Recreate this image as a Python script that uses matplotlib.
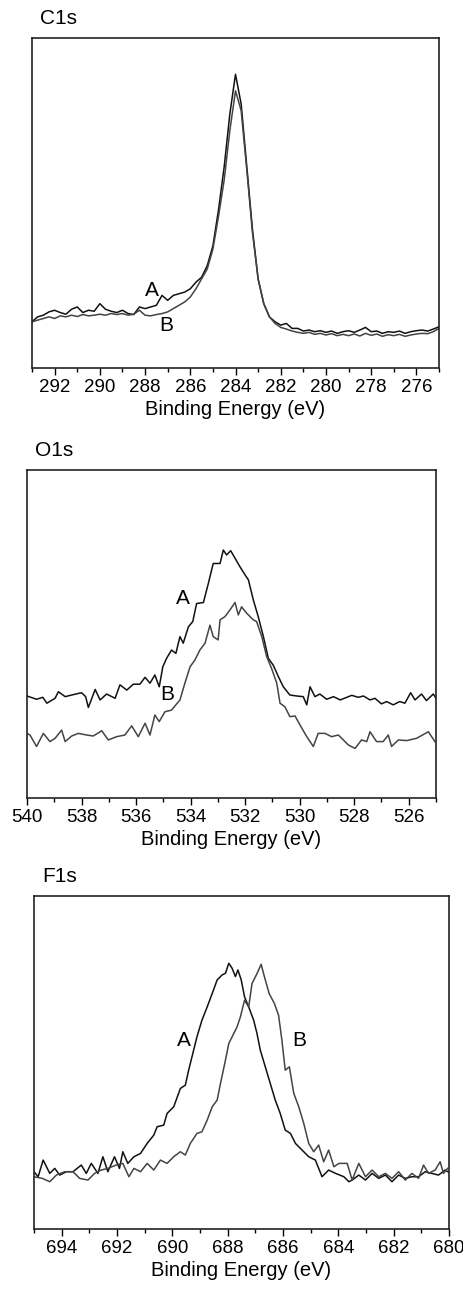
import numpy as np
import matplotlib
matplotlib.use("Agg")
import matplotlib.pyplot as plt
from matplotlib.ticker import MultipleLocator

plt.rcParams['font.family'] = ['Liberation Sans', 'DejaVu Sans']

# C1s: uniform grid 293 -> 275 eV, step 0.25
c1s_start, c1s_stop, c1s_step = 293.0, 275.0, 0.25
c1s_a = [14, 15.5, 16, 17, 17.5, 16.8, 16.3, 17.8, 18.5, 16.8, 17.5, 17.2, 19.5, 17.8, 17.2, 16.8,
         17.5, 16.5, 16.2, 18.5, 18, 18.5, 19, 22, 20.5, 22, 22.5, 23, 24, 26, 27.5, 31,
         37, 48, 61, 77, 89, 80, 61, 42, 27, 19.5, 15.5, 14, 13, 13.5, 12, 12,
         11.2, 11.5, 11, 11.3, 10.8, 11.2, 10.5, 11, 11.3, 10.8, 11.5, 12.3, 11, 11.2,
         10.5, 11, 10.8, 11.2, 10.5, 11, 11.3, 11.5, 11.2, 11.8, 12.5]
c1s_b = [14, 14.5, 15, 15.5, 15, 15.8, 15.5, 16, 15.6, 16.2, 15.8, 16, 16.3, 16, 16.5, 16.2,
         16.5, 16, 16.3, 17.5, 16, 15.8, 16.2, 16.5, 17, 18, 19, 20, 21.5, 24, 27, 30,
         36, 46, 57, 72, 84, 78, 60, 41, 27, 19.5, 15.5, 13.5, 12.3, 11.8, 11.2, 10.8,
         10.5, 10.8, 10.2, 10.5, 10.0, 10.4, 9.8, 10.2, 9.8, 10.3, 9.7, 10.5, 9.9, 10.3,
         9.6, 10.1, 9.8, 10.2, 9.6, 10.0, 10.3, 10.5, 10.4, 11, 12]

# O1s
o1s_a_ev = [540.0, 539.65, 539.42, 539.27, 538.97, 538.85, 538.6, 538.36, 538.0, 537.85, 537.75,
            537.5, 537.32, 537.08, 536.77, 536.59, 536.34, 536.1, 535.86, 535.67, 535.49, 535.31,
            535.15, 535.02, 534.88, 534.7, 534.54, 534.39, 534.27, 534.08, 533.92, 533.78, 533.53,
            533.35, 533.17, 532.92, 532.8, 532.68, 532.53, 532.37, 532.19, 532.0, 531.88, 531.7,
            531.52, 531.33, 531.15, 530.97, 530.78, 530.6, 530.36, 530.11, 529.87, 529.74, 529.62,
            529.44, 529.26, 529.01, 528.76, 528.51, 528.27, 528.09, 527.85, 527.66, 527.42, 527.24,
            527.0, 526.81, 526.57, 526.33, 526.14, 525.93, 525.77, 525.53, 525.35, 525.1, 525.0]
o1s_a = [31.1, 30.1, 30.7, 28.9, 30.4, 32.4, 30.9, 31.4, 32.1, 30.9, 27.6,
         33.1, 29.9, 31.7, 30.4, 34.5, 32.9, 34.7, 34.7, 36.8, 35.0, 37.5,
         33.9, 40.0, 42.6, 45.1, 44.1, 49.2, 47.2, 52.2, 53.8, 59.3, 59.6,
         65.4, 71.5, 71.5, 75.6, 74.1, 75.4, 73.1, 70.5, 68.0, 66.5, 60.4,
         55.3, 49.2, 42.6, 40.5, 37.0, 33.9, 31.4, 31.1, 30.9, 28.4, 33.9,
         30.9, 31.7, 30.1, 30.9, 29.9, 30.7, 31.3, 30.7, 31.1, 29.9, 30.4,
         28.7, 29.4, 28.4, 29.4, 28.9, 32.1, 29.9, 31.7, 29.7, 31.7, 30.4]
o1s_b_ev = [540.0, 539.89, 539.65, 539.4, 539.16, 538.97, 538.73, 538.6, 538.36, 538.12, 537.81,
            537.57, 537.26, 537.02, 536.71, 536.41, 536.16, 535.92, 535.67, 535.49, 535.31, 535.15,
            534.94, 534.7, 534.39, 534.21, 534.02, 533.84, 533.66, 533.47, 533.29, 533.17, 532.99,
            532.92, 532.74, 532.56, 532.37, 532.25, 532.13, 531.94, 531.7, 531.58, 531.39, 531.21,
            531.03, 530.84, 530.72, 530.54, 530.36, 530.17, 529.99, 529.74, 529.5, 529.32, 529.07,
            528.83, 528.58, 528.4, 528.22, 527.97, 527.73, 527.54, 527.42, 527.18, 526.94, 526.75,
            526.63, 526.38, 526.08, 525.71, 525.28, 525.04]
o1s_b = [19.7, 19.2, 15.7, 19.7, 17.2, 18.2, 20.7, 17.2, 18.9, 19.7, 19.2,
         18.9, 20.5, 17.7, 18.7, 19.2, 22.0, 18.7, 22.8, 19.2, 25.3, 23.3,
         26.3, 26.8, 29.9, 35.0, 40.0, 42.1, 45.1, 47.2, 52.7, 49.2, 48.2,
         54.3, 55.3, 57.3, 59.6, 55.8, 58.3, 56.3, 54.3, 53.8, 49.2, 43.1,
         39.5, 35.0, 28.9, 27.8, 24.8, 25.0, 22.3, 18.7, 15.7, 19.7, 19.7,
         18.7, 19.2, 17.7, 16.2, 15.1, 17.7, 17.2, 20.2, 17.2, 17.2, 19.2,
         15.7, 17.7, 17.5, 18.2, 20.2, 17.2]

# F1s
f1s_a_ev = [695.0, 694.85, 694.67, 694.43, 694.25, 694.07, 693.83, 693.59, 693.29, 693.11, 692.93,
            692.69, 692.51, 692.33, 692.09, 691.91, 691.79, 691.61, 691.39, 691.15, 690.91, 690.67,
            690.55, 690.31, 690.19, 689.95, 689.71, 689.53, 689.41, 689.29, 689.11, 688.93, 688.74,
            688.56, 688.38, 688.2, 688.08, 687.96, 687.84, 687.72, 687.63, 687.51, 687.39, 687.24,
            687.06, 686.94, 686.82, 686.64, 686.46, 686.28, 686.1, 685.92, 685.73, 685.55, 685.31,
            685.07, 684.83, 684.59, 684.35, 684.1, 683.8, 683.62, 683.5, 683.26, 683.02, 682.78,
            682.54, 682.3, 682.06, 681.82, 681.58, 681.34, 681.1, 680.86, 680.62, 680.38, 680.14, 680.0]
f1s_a = [17.2, 15.7, 20.7, 16.7, 18.2, 16.2, 17.2, 17.2, 19.2, 16.7, 19.7,
         16.7, 21.7, 17.2, 21.7, 18.2, 23.2, 19.7, 21.7, 22.7, 25.7, 28.2,
         30.7, 31.2, 34.7, 36.7, 42.2, 43.2, 47.7, 51.7, 57.7, 62.7, 66.7,
         70.7, 74.8, 76.3, 76.8, 79.8, 78.3, 75.8, 77.8, 74.8, 69.7, 66.7,
         62.7, 58.7, 53.7, 48.7, 43.7, 38.7, 34.7, 29.7, 28.7, 25.7, 23.7,
         21.7, 20.7, 15.7, 17.7, 16.7, 15.7, 14.2, 14.7, 16.2, 14.7, 16.7,
         15.2, 16.2, 14.2, 16.2, 15.2, 15.7, 15.7, 17.2, 16.7, 16.2, 17.7, 17.0]
f1s_b_ev = [695.0, 694.7, 694.43, 694.19, 693.89, 693.59, 693.35, 693.05, 692.81, 692.57, 692.33,
            692.03, 691.79, 691.57, 691.39, 691.15, 690.91, 690.67, 690.43, 690.19, 689.95, 689.71,
            689.53, 689.35, 689.11, 688.93, 688.74, 688.56, 688.38, 688.26, 688.08, 687.96, 687.78,
            687.66, 687.54, 687.39, 687.24, 687.12, 686.94, 686.79, 686.67, 686.5, 686.31, 686.16,
            686.04, 685.92, 685.77, 685.61, 685.43, 685.25, 685.07, 684.89, 684.71, 684.53, 684.35,
            684.16, 683.98, 683.68, 683.5, 683.26, 683.02, 682.78, 682.54, 682.3, 682.06, 681.82,
            681.58, 681.34, 681.1, 680.92, 680.74, 680.5, 680.32, 680.2, 680.05]
f1s_b = [15.7, 15.2, 14.2, 16.2, 17.2, 17.2, 15.2, 14.7, 16.7, 17.7, 18.2,
         19.2, 19.7, 15.7, 18.2, 17.2, 19.7, 17.7, 20.7, 19.7, 21.7, 23.2,
         22.2, 25.7, 28.7, 29.2, 32.7, 36.7, 38.7, 43.7, 50.7, 55.7, 58.7,
         60.7, 63.7, 68.7, 66.7, 73.7, 76.7, 79.5, 75.7, 70.7, 67.7, 64.2,
         56.7, 47.7, 48.7, 40.7, 36.7, 31.7, 25.7, 23.2, 25.2, 20.2, 23.7,
         18.7, 19.7, 19.7, 14.7, 19.7, 15.7, 17.7, 15.7, 16.7, 15.2, 17.2,
         14.7, 16.7, 15.2, 19.2, 16.7, 17.7, 20.2, 16.7, 18.2]

panels = [
    # title, xlim, ticks, A, B, label positions, axes rect
    ("C1s", (293, 275), np.arange(292, 275, -2),
     (np.arange(c1s_start, c1s_stop - 0.01, -c1s_step), c1s_a),
     (np.arange(c1s_start, c1s_stop - 0.01, -c1s_step), c1s_b),
     [(287.7, 23.6, "A"), (287.05, 13.0, "B")],
     [32 / 463, 1 - 368 / 1291, 407 / 463, 330 / 1291]),
    ("O1s", (540, 525), np.arange(540, 525, -2),
     (o1s_a_ev, o1s_a), (o1s_b_ev, o1s_b),
     [(534.3, 60.7, "A"), (534.85, 31.7, "B")],
     [27 / 463, 1 - 798 / 1291, 409 / 463, 328 / 1291]),
    ("F1s", (695, 680), np.arange(694, 679, -2),
     (f1s_a_ev, f1s_a), (f1s_b_ev, f1s_b),
     [(689.6, 56.7, "A"), (685.4, 56.7, "B")],
     [34 / 463, 1 - 1229 / 1291, 415 / 463, 333 / 1291]),
]

fig = plt.figure(figsize=(4.63, 12.91), dpi=100)

for title, xlim, ticks, (xa, ya), (xb, yb), labels, rect in panels:
    ax = fig.add_axes(rect)
    ax.plot(xa, ya, color='#111111', lw=1.1)
    ax.plot(xb, yb, color='#444444', lw=1.1)
    ax.set_xlim(*xlim)
    ax.set_ylim(0, 100)
    ax.set_xticks(ticks)
    ax.set_xticklabels([str(int(t)) for t in ticks])
    ax.xaxis.set_minor_locator(MultipleLocator(1))
    ax.tick_params(axis='x', which='major', direction='out', length=5, width=1, labelsize=13.5, pad=3)
    ax.tick_params(axis='x', which='minor', direction='out', length=3, width=1)
    ax.set_yticks([])
    for s in ax.spines.values():
        s.set_linewidth(1.2)
        s.set_color('#222222')
    ax.set_xlabel("Binding Energy (eV)", fontsize=14.5, labelpad=3)
    for x, y, t in labels:
        ax.text(x, y, t, fontsize=15, ha='center', va='center')
    fig.text(rect[0] + 8 / 463, rect[1] + rect[3] + 20 / 1291, title, fontsize=15,
             ha='left', va='center')

fig.savefig("out.png", dpi=100)
